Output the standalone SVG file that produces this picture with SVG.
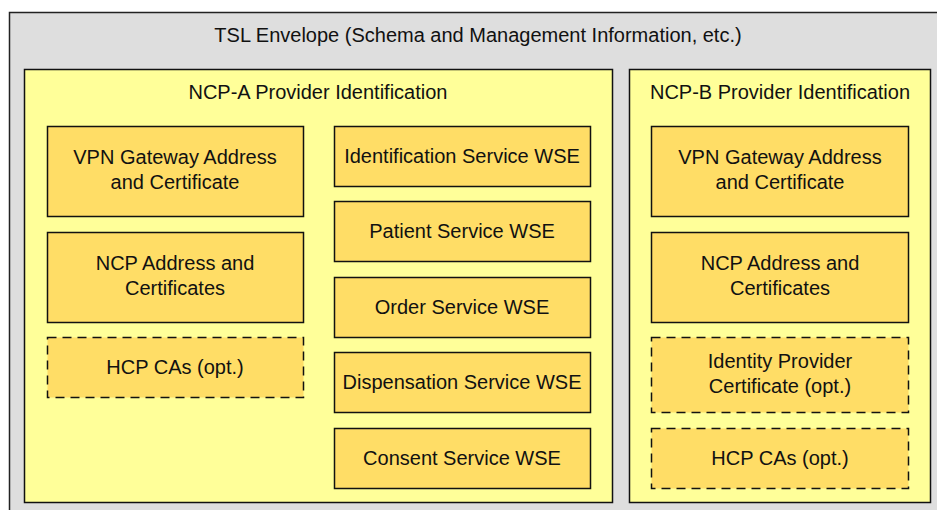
<svg xmlns="http://www.w3.org/2000/svg" width="937" height="510" viewBox="0 0 937 510">
<style>
.env{fill:#dedede;stroke:#222;stroke-width:1.5}
.prov{fill:#ffff99;stroke:#111;stroke-width:1.5}
.item{fill:#ffdd66;stroke:#111;stroke-width:1.5}
.opt{fill:#ffdd66;stroke:#111;stroke-width:1.5;stroke-dasharray:9 6}
text{font-family:"Liberation Sans",Arial,sans-serif;font-size:20px;fill:#111;text-anchor:middle}
</style>
<g id="envelope">
<rect class="env" x="9.5" y="12.5" width="940" height="510"/>
<text x="478" y="42">TSL Envelope (Schema and Management Information, etc.)</text>
</g>
<g id="ncp-a">
<rect class="prov" x="24.5" y="69.5" width="588" height="433"/>
<text x="318" y="99">NCP-A Provider Identification</text>
</g>
<g id="ncp-b">
<rect class="prov" x="629.5" y="69.5" width="301" height="433"/>
<text x="780" y="99">NCP-B Provider Identification</text>
</g>
<g id="a-vpn"><rect class="item" x="47.5" y="126.5" width="256" height="90"/><text x="175" y="164">VPN Gateway Address</text><text x="175" y="189">and Certificate</text></g>
<g id="a-ncp"><rect class="item" x="47.5" y="232.5" width="256" height="90"/><text x="175" y="270">NCP Address and</text><text x="175" y="295">Certificates</text></g>
<g id="a-hcp"><rect class="opt" x="47.5" y="337.5" width="256" height="60"/><text x="175" y="374">HCP CAs (opt.)</text></g>
<g id="a-ident"><rect class="item" x="334.5" y="126.5" width="256" height="60"/><text x="462" y="163">Identification Service WSE</text></g>
<g id="a-patient"><rect class="item" x="334.5" y="201.5" width="256" height="60"/><text x="462" y="238">Patient Service WSE</text></g>
<g id="a-order"><rect class="item" x="334.5" y="277.5" width="256" height="60"/><text x="462" y="314">Order Service WSE</text></g>
<g id="a-disp"><rect class="item" x="334.5" y="352.5" width="256" height="60"/><text x="462" y="389">Dispensation Service WSE</text></g>
<g id="a-consent"><rect class="item" x="334.5" y="428.5" width="256" height="60"/><text x="462" y="465">Consent Service WSE</text></g>
<g id="b-vpn"><rect class="item" x="651.5" y="126.5" width="257" height="90"/><text x="780" y="164">VPN Gateway Address</text><text x="780" y="189">and Certificate</text></g>
<g id="b-ncp"><rect class="item" x="651.5" y="232.5" width="257" height="90"/><text x="780" y="270">NCP Address and</text><text x="780" y="295">Certificates</text></g>
<g id="b-idp"><rect class="opt" x="651.5" y="337.5" width="257" height="75"/><text x="780" y="368">Identity Provider</text><text x="780" y="393">Certificate (opt.)</text></g>
<g id="b-hcp"><rect class="opt" x="651.5" y="428.5" width="257" height="60"/><text x="780" y="465">HCP CAs (opt.)</text></g>
<g id="connectors"></g>
</svg>
